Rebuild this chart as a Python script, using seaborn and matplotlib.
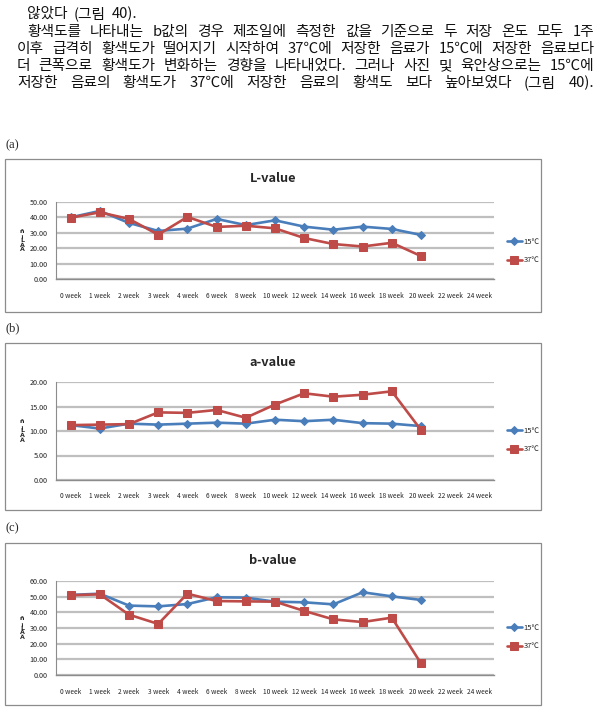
import pandas as pd
import seaborn as sns
import matplotlib.pyplot as plt
from matplotlib.patches import Rectangle

# 데이터
weeks = ["0 week", "1 week", "2 week", "3 week", "4 week", "6 week", "8 week",
         "10 week", "12 week", "14 week", "16 week", "18 week", "20 week",
         "22 week", "24 week"]
temps = ["15℃", "37℃"]

l_15 = [40.0, 44.2, 36.4, 31.2, 32.7, 39.0, 35.0, 38.1, 34.0, 32.0, 34.0, 32.5, 28.6]
l_37 = [39.8, 43.3, 39.0, 28.8, 40.3, 33.8, 34.6, 32.9, 26.6, 22.7, 21.1, 23.5, 14.9]
a_15 = [11.2, 10.5, 11.5, 11.3, 11.5, 11.7, 11.5, 12.3, 12.0, 12.3, 11.6, 11.5, 11.0]
a_37 = [11.2, 11.3, 11.4, 13.8, 13.7, 14.3, 12.7, 15.4, 17.7, 17.0, 17.4, 18.1, 10.2]
b_15 = [51.1, 51.9, 44.3, 43.8, 45.3, 49.6, 49.4, 46.8, 46.4, 45.1, 52.8, 50.2, 47.9]
b_37 = [50.9, 51.5, 38.5, 32.6, 51.9, 47.2, 47.0, 46.8, 40.9, 35.5, 33.8, 36.6, 7.4]

paragraph = [
    "않았다 (그림 40).",
    "황색도를 나타내는 b값의 경우 제조일에 측정한 값을 기준으로 두 저장 온도 모두 1주",
    "이후 급격히 황색도가 떨어지기 시작하여 37℃에 저장한 음료가 15℃에 저장한 음료보다",
    "더 큰폭으로 황색도가 변화하는 경향을 나타내었다. 그러나 사진 및 육안상으로는 15℃에",
    "저장한 음료의 황색도가 37℃에 저장한 음료의 황색도 보다 높아보였다 (그림 40).",
]

BLUE = "#4A7EBB"
RED = "#BE4B48"

sns.set_theme(style="white")
plt.rcParams["font.family"] = ["Noto Sans CJK KR", "DejaVu Sans"]

W, H = 604, 713
fig = plt.figure(figsize=(W / 100, H / 100), dpi=100)


def fx(px):
    return px / W


def fy(py):
    return 1 - py / H


# 본문 (양쪽 정렬)
renderer = fig.canvas.get_renderer()
line_y = [14, 32, 49, 66, 83]
line_x0 = [27, 27, 17, 17, 17]
for i, line in enumerate(paragraph):
    words = line.split(" ")
    objs = [fig.text(0, fy(line_y[i]), w, fontsize=10.6, va="center", color="#111111")
            for w in words]
    widths = [o.get_window_extent(renderer).width for o in objs]
    if i == 0:
        gap = 6
    else:
        gap = (594 - line_x0[i] - sum(widths)) / (len(words) - 1)
    x = line_x0[i]
    for o, w in zip(objs, widths):
        o.set_x(fx(x))
        x += w + gap

# 패널 설정: 제목, 라벨, 시리즈, y최대, 간격, 박스, 플롯영역, 제목위치, 라벨위치, 범례위치
panels = [
    ("L-value", "(a)", l_15, l_37, 50, 10, (159, 312), (202, 279), 179, 145, 251),
    ("a-value", "(b)", a_15, a_37, 20, 5, (343, 510), (382, 480), 362, 328, 440),
    ("b-value", "(c)", b_15, b_37, 60, 10, (543, 705), (581, 675), 560, 528, 637),
]

for title, tag, s15, s37, ymax, step, box, plot, ty, tagy, legy in panels:
    # 테두리 박스
    fig.add_artist(Rectangle((fx(5), fy(box[1])), fx(541) - fx(5), (box[1] - box[0]) / H,
                             transform=fig.transFigure, fill=False,
                             edgecolor="#8C8C8C", linewidth=0.9))
    fig.text(fx(5), fy(tagy), tag, fontsize=9, va="center", family="Liberation Serif")
    fig.text(fx(273), fy(ty), title, fontsize=9.2, fontweight="bold", ha="center", va="center")

    ax = fig.add_axes([fx(56), fy(plot[1]), fx(494) - fx(56), (plot[1] - plot[0]) / H])
    n = len(s15)
    df = pd.DataFrame({"pos": list(range(n)) * 2,
                       "value": s15 + s37,
                       "temp": [temps[0]] * n + [temps[1]] * n})
    sns.lineplot(data=df[df.temp == temps[0]], x="pos", y="value", ax=ax,
                 color=BLUE, marker="D", markersize=4, markeredgecolor=BLUE,
                 linewidth=1.9, label=temps[0])
    sns.lineplot(data=df[df.temp == temps[1]], x="pos", y="value", ax=ax,
                 color=RED, marker="s", markersize=5.5, markeredgecolor=RED,
                 linewidth=1.9, label=temps[1])

    ax.set_xlim(-0.5, len(weeks) - 0.5)
    ax.set_ylim(0, ymax)
    ax.set_xticks(range(len(weeks)))
    ax.set_xticklabels(weeks)
    ax.set_yticks(range(0, ymax + 1, step))
    ax.set_yticklabels([f"{v:.2f}" for v in range(0, ymax + 1, step)])
    ax.set_xlabel("")
    ax.set_ylabel("")
    ax.tick_params(axis="both", length=0, colors="#222222")
    ax.tick_params(axis="x", pad=9, labelsize=4.7)
    ax.tick_params(axis="y", pad=6, labelsize=5.2)
    ax.yaxis.grid(True, color="#BFBFBF", linewidth=1.6)
    ax.xaxis.grid(False)
    ax.set_axisbelow(True)
    for side in ["top", "right"]:
        ax.spines[side].set_visible(False)
    ax.spines["left"].set_color("#8C8C8C")
    ax.spines["left"].set_linewidth(0.8)
    ax.spines["bottom"].set_color("#8C8C8C")
    ax.spines["bottom"].set_linewidth(1.0)

    # 깨진 y축 제목
    fig.text(fx(22), fy((plot[0] + plot[1]) / 2), "ñ\n¡\nL\nÀ\nÂ", fontsize=4.5,
             fontweight="bold", ha="center", va="center", linespacing=0.9,
             family="DejaVu Sans")

    handles, labels = ax.get_legend_handles_labels()
    ax.legend(handles, labels, loc="center left", bbox_to_anchor=(fx(503), fy(legy)),
              bbox_transform=fig.transFigure, frameon=False, fontsize=5.5,
              handlelength=2.0, handletextpad=0.2, labelspacing=1.4, borderpad=0)

fig.savefig("out.png", dpi=100)
